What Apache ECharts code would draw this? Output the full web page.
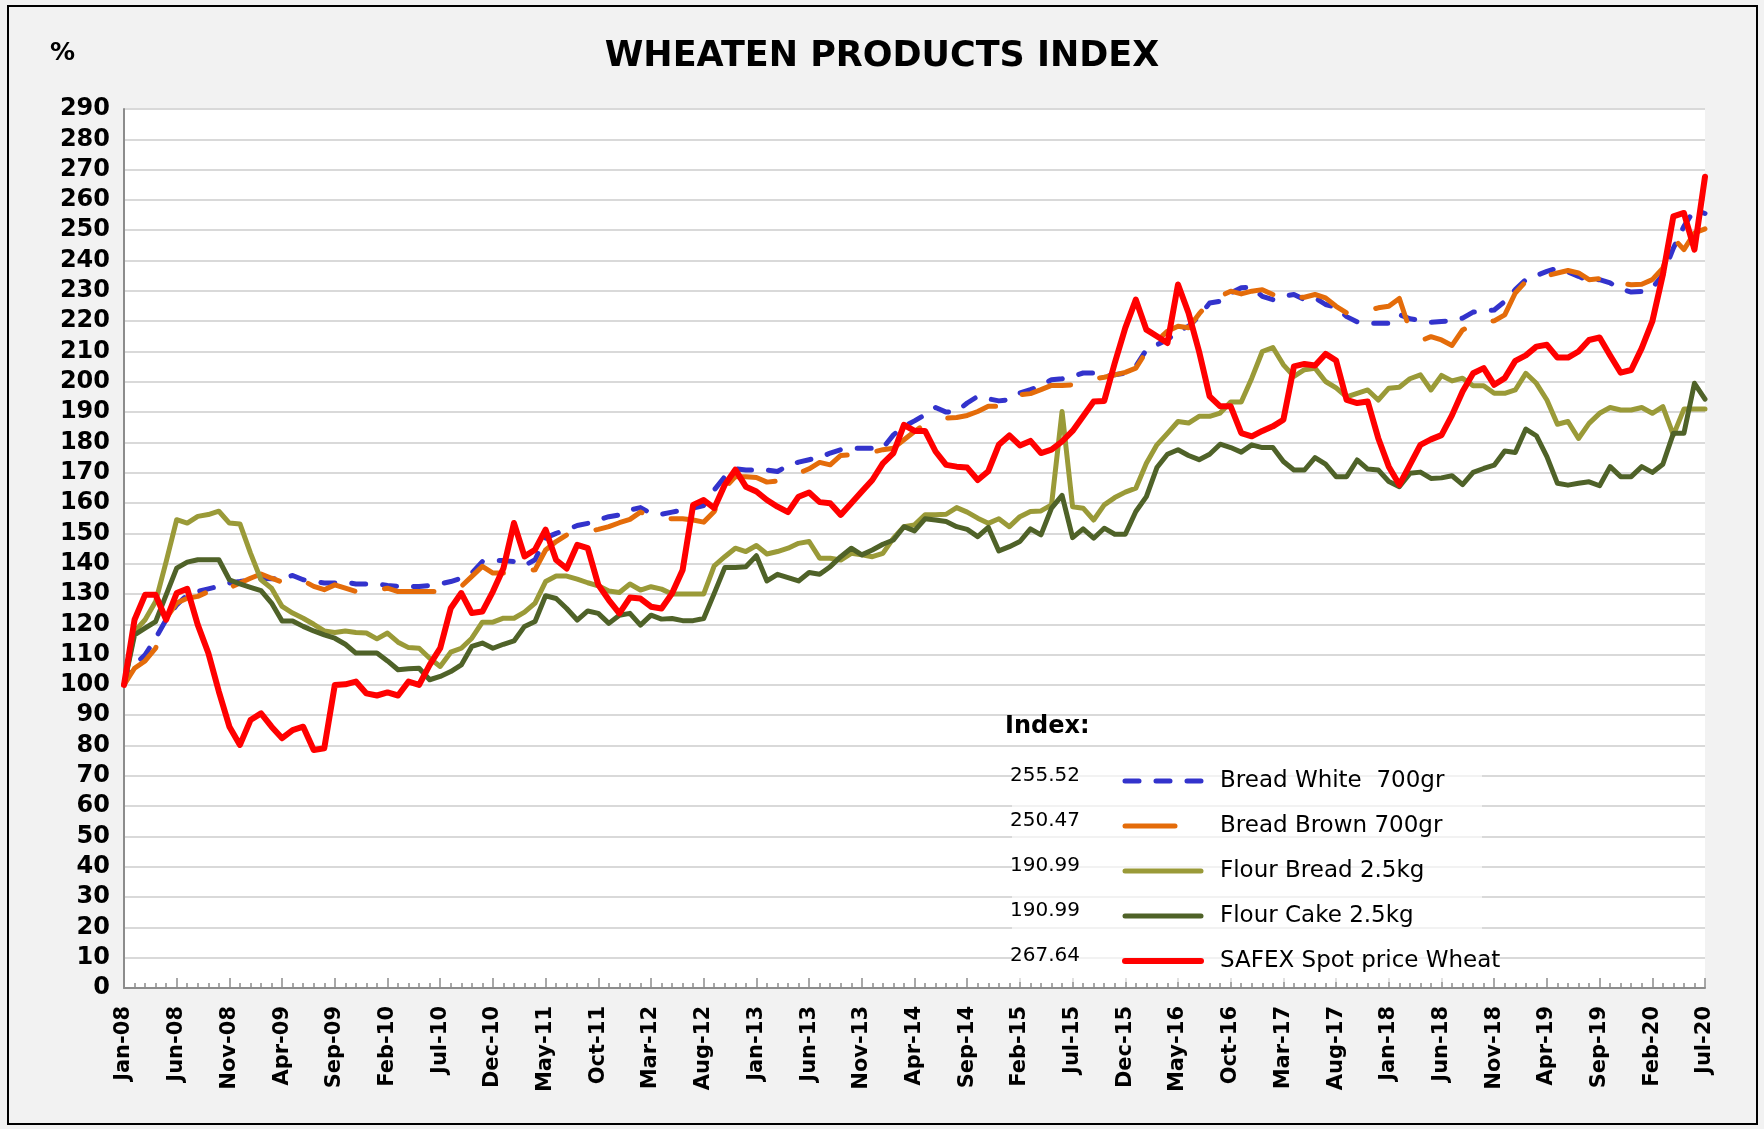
<!DOCTYPE html>
<html>
<head>
<meta charset="utf-8">
<title>Wheaten Products Index</title>
<script src="https://cdn.jsdelivr.net/npm/echarts@6/dist/echarts.min.js"></script>
<style>
  html, body { margin: 0; padding: 0; background: #F2F2F2; }
  #chart { width: 1764px; height: 1129px; }
</style>
</head>
<body>
<div id="chart"></div>
<script>
// month axis Jan-08 .. Jul-20
const monthNames = ['Jan', 'Feb', 'Mar', 'Apr', 'May', 'Jun', 'Jul', 'Aug', 'Sep', 'Oct', 'Nov', 'Dec']
const years = ['08', '09', '10', '11', '12', '13', '14', '15', '16', '17', '18', '19', '20']
const lastMonthOfLastYear = 7

const seriesNames = ['Bread White  700gr', 'Bread Brown 700gr', 'Flour Bread 2.5kg', 'Flour Cake 2.5kg', 'SAFEX Spot price Wheat']
const legendValues = ['255.52', '250.47', '190.99', '190.99', '267.64']

const breadWhite = [
  100, 106.6, 109.9, 115.4, 121.5, 126.4, 129.7, 130.8, 131.7, 132.5, 133.6, 134.1, 134.7, 135.2, 135, 135.2, 136.1, 134.7, 134.1, 133.6,
  133.6, 133.9, 133.3, 133.3, 133.3, 132.8, 132.5, 132.5, 132.5, 132.8, 133.3, 134.1, 135.2, 136.9, 140.7, 141, 141, 140.7, 139.4, 141.3,
  148.5, 150, 151.1, 152.6, 153.3, 154.4, 155.5, 156.1, 157.7, 158.5, 156.6, 156.3, 157, 157.7, 158.3, 159.2, 164.3, 168.7, 171.3, 170.9,
  170.9, 170.9, 170.4, 172.4, 173.5, 174.3, 175, 176.5, 177.6, 178.1, 178.1, 178.1, 178.1, 182.5, 185.3, 187.1, 189.1, 191.5, 190, 190.2,
  193, 195.2, 194.4, 193.7, 194.1, 196.3, 197.4, 198.8, 200.7, 201, 201.8, 202.9, 202.9, 201.8, 202.3, 202.9, 205.1, 210.6, 212.2, 213.9,
  216.7, 218.3, 221.6, 226, 226.6, 229.3, 231, 231.2, 228.2, 227.1, 228.2, 228.8, 227.1, 227.7, 225.5, 224.5, 221.5, 219.8, 219.3, 219.3,
  219.3, 222.2, 220.8, 220.2, 219.6, 219.9, 220.1, 221, 223, 223.4, 223.7, 226.5, 230.4, 233.7, 235.1, 236.4, 237.5, 236.2, 234.8, 233.3,
  233.7, 232.6, 230.7, 229.6, 229.8, 230.9, 235.3, 244.1, 251.3, 256.8, 255.52
]
const breadBrown = [
  100, 105.5, 107.9, 112.1, 122, 127, 128.6, 129.2, 130.8, 132.5, 132, 133.6, 135.2, 136.6, 135.2, 133.9, 133.5, 134.4, 132.5, 131.4,
  133, 131.9, 130.8, 130.6, 131.2, 131.9, 130.8, 130.8, 130.8, 130.8, 130.8, 131.5, 132.5, 135.8, 139.1, 136.9, 136.9, 136.9, 137.5, 138,
  144.5, 147.3, 149.5, 150, 150.6, 151.3, 152.2, 153.5, 154.6, 157, 155.5, 155, 154.8, 154.8, 154.4, 153.7, 157.2, 164.9, 168.7, 168.7,
  168.4, 166.9, 167.3, 168.5, 169.8, 171.3, 173.4, 172.6, 175.7, 175.9, 176.5, 176.8, 177.6, 178.1, 180.9, 183.6, 186, 187, 188, 188.2,
  188.9, 190.2, 191.9, 191.9, 194.6, 195.7, 196.1, 197.4, 198.8, 198.8, 199, 200.4, 201, 201.5, 202.3, 203.1, 204.5, 210, 213.5, 216.7,
  218.3, 217.8, 222.4, 226.3, 228.2, 229.9, 229, 229.9, 230.4, 228.8, 227.4, 227.9, 227.9, 228.8, 227.7, 224.9, 222.7, 223.3, 223.5, 224.4,
  224.9, 227.5, 217, 213.5, 214.9, 213.8, 212, 217.1, 218.8, 219.9, 220.1, 222.1, 229.3, 233.1, 234.8, 235, 235.9, 236.7, 235.9, 233.7,
  234, 232.9, 232.6, 232, 232.2, 233.7, 237.5, 247.4, 243.6, 249.1, 250.47
]
const flourBread = [
  100, 117.6, 121.5, 127.5, 140.7, 154.5, 153.4, 155.6, 156.2, 157.3, 153.4, 153.1, 143.5, 134.7, 131.9, 125.9, 123.7, 122, 120, 117.8,
  117.3, 117.8, 117.3, 117.1, 115.2, 117.1, 114.1, 112.3, 112.1, 108.8, 106.1, 110.8, 112.1, 115.4, 120.7, 120.7, 122, 122, 124, 127,
  134.1, 135.9, 135.9, 134.9, 133.7, 132.7, 131, 130.5, 133.3, 131.3, 132.4, 131.6, 130, 130, 130, 130, 139.3, 142.3, 145.1, 144,
  146, 143.2, 144, 145.1, 146.7, 147.3, 141.8, 141.8, 141.2, 143.4, 142.9, 142.3, 143.4, 148.4, 152.2, 152.8, 156.1, 156.1, 156.3, 158.5,
  157, 155, 153.3, 154.8, 152.2, 155.5, 157.2, 157.4, 159.4, 190.2, 158.8, 158.3, 154.4, 159.4, 161.8, 163.6, 164.9, 173.1, 179.2, 183,
  186.9, 186.4, 188.6, 188.6, 189.7, 193.3, 193.3, 201.2, 210, 211.3, 205.6, 201.8, 204, 204.5, 200.1, 198, 195, 196.2, 197.3, 194,
  197.9, 198.2, 201, 202.3, 197.3, 202.1, 200.3, 201.2, 198.7, 198.7, 196.2, 196.2, 197.3, 202.8, 199.5, 194, 186, 186.9, 181.3, 186.3,
  189.6, 191.5, 190.7, 190.7, 191.5, 189.6, 191.8, 182.4, 190.99, 190.99, 190.99
]
const flourCake = [
  100, 116.5, 118.7, 120.9, 129.7, 138.5, 140.5, 141.3, 141.3, 141.3, 134.7, 133.3, 132.2, 131.1, 127, 121.1, 121.1, 119.3, 117.8, 116.5,
  115.4, 113.4, 110.5, 110.5, 110.5, 107.9, 105, 105.3, 105.5, 101.7, 102.8, 104.4, 106.6, 112.7, 113.8, 112.1, 113.4, 114.5, 119.3, 120.9,
  129.4, 128.5, 125.2, 121.4, 124.4, 123.6, 120.3, 123, 123.6, 119.7, 123, 121.7, 121.9, 121.2, 121.2, 121.9, 130.2, 138.7, 138.7, 139,
  142.6, 134.3, 136.5, 135.4, 134.3, 137.1, 136.5, 139, 142.3, 145.1, 142.9, 144.5, 146.4, 147.8, 152.2, 150.8, 154.8, 154.4, 153.9, 152.2,
  151.3, 148.9, 152, 144.2, 145.6, 147.3, 151.5, 149.5, 158.3, 162.5, 148.6, 151.5, 148.4, 151.7, 149.7, 149.7, 157.2, 162.1, 171.7, 176.1,
  177.6, 175.7, 174.3, 176.1, 179.4, 178.3, 176.8, 179.2, 178.3, 178.3, 173.7, 170.9, 170.9, 175, 172.8, 168.7, 168.7, 174.2, 171.2, 170.9,
  167.1, 165.4, 169.8, 170.2, 168.1, 168.3, 169, 166.1, 170.1, 171.4, 172.5, 177.2, 176.7, 184.4, 182.2, 175.3, 166.5, 165.9, 166.5, 167,
  165.7, 172, 168.7, 168.7, 172, 170.1, 172.8, 183, 183, 199.5, 194.3
]
const safexWheat = [
  100, 121.5, 129.7, 129.7, 121.5, 130.3, 131.7, 119.8, 110.5, 97.8, 86.2, 80.2, 88.4, 90.6, 86.2, 82.4, 85.1, 86.2, 78.5, 79.1,
  100, 100.2, 101.1, 97.2, 96.5, 97.5, 96.5, 101.1, 100, 106.6, 112.1, 125.3, 130.3, 123.7, 124.2, 130.8, 138.5, 153.4, 142.4, 144.6,
  151.2, 141.2, 138.4, 146.2, 145.1, 133, 128, 123.6, 128.8, 128.5, 125.8, 125.2, 130.2, 137.9, 159.4, 161, 158.3, 166, 171, 165.4,
  163.8, 161, 158.8, 157, 162.1, 163.5, 160.3, 159.9, 156.1, 159.9, 163.8, 167.6, 173.1, 176.5, 185.8, 183.8, 183.8, 177, 172.6, 172,
  171.7, 167.6, 170.5, 179.2, 182.3, 179, 180.5, 176.5, 177.6, 180.3, 183.8, 188.6, 193.5, 193.7, 206.2, 217.8, 227.1, 217.2, 215, 212.8,
  232.1, 222.7, 210, 195.2, 191.9, 191.9, 183.1, 182, 183.8, 185.3, 187.5, 205.1, 205.9, 205.4, 209.2, 207, 194, 193, 193.5, 181.4,
  172, 166, 172.6, 179.2, 181, 182.4, 189, 196.8, 202.8, 204.5, 199, 201.2, 206.9, 208.7, 211.6, 212.2, 208, 208, 210, 213.8,
  214.6, 208.7, 203, 203.9, 211.1, 219.9, 235.3, 254.6, 255.7, 243.6, 267.64
]

const categories = []
years.forEach((yy, yi) => {
  const count = yi === years.length - 1 ? lastMonthOfLastYear : 12
  for (let m = 0; m < count; m++) categories.push(monthNames[m] + '-' + yy)
})

const FONT = 'DejaVu Sans'
const AXIS_GREY = '#8C8C8C'

const chart = echarts.init(document.getElementById('chart'), null, { renderer: 'canvas' })

const lineSeries = (name, data, color, width, dash) => ({
  name,
  type: 'line',
  data,
  symbol: 'none',
  smooth: false,
  animation: false,
  lineStyle: {
    color,
    width,
    type: dash || 'solid',
    cap: 'round',
    join: 'round'
  },
  itemStyle: { color }
})

chart.setOption({
  backgroundColor: '#F2F2F2',
  animation: false,
  textStyle: { fontFamily: FONT },
  grid: {
    left: 124,
    right: 59,
    top: 109,
    bottom: 141,
    show: true,
    backgroundColor: '#FFFFFF',
    borderWidth: 0
  },
  title: {
    text: 'WHEATEN PRODUCTS INDEX',
    left: 'center',
    top: 34,
    textStyle: { fontFamily: FONT, fontSize: 35, fontWeight: 'bold', color: '#000' }
  },
  legend: {
    orient: 'vertical',
    left: 1117,
    top: 764,
    itemWidth: 76,
    itemHeight: 14,
    itemGap: 21,
    selectedMode: false,
    data: seriesNames,
    itemStyle: { opacity: 0 },
    lineStyle: { width: 'inherit', cap: 'round' },
    textStyle: {
      fontFamily: FONT,
      fontSize: 23,
      color: '#000',
      lineHeight: 24,
      padding: [0, 0, 0, 14]
    }
  },
  xAxis: [{
    type: 'category',
    data: categories,
    boundaryGap: false,
    axisLine: { show: true, lineStyle: { color: AXIS_GREY, width: 2 } },
    axisTick: { show: true, inside: true, interval: 0, length: 5, lineStyle: { color: AXIS_GREY, width: 1.5 } },
    axisLabel: {
      interval: 4,
      rotate: 90,
      margin: 18,
      fontFamily: FONT,
      fontSize: 21,
      fontWeight: 'bold',
      color: '#000'
    },
    splitLine: { show: false }
  }, {
    type: 'category',
    data: categories,
    boundaryGap: false,
    position: 'bottom',
    axisLine: { show: false },
    axisTick: { show: true, inside: true, interval: 4, length: 10, lineStyle: { color: AXIS_GREY, width: 1.5 } },
    axisLabel: { show: false },
    splitLine: { show: false }
  }],
  yAxis: {
    type: 'value',
    min: 0,
    max: 290,
    interval: 10,
    axisLine: { show: true, lineStyle: { color: AXIS_GREY, width: 2 } },
    axisTick: { show: false },
    axisLabel: {
      margin: 14,
      fontFamily: FONT,
      fontSize: 24,
      fontWeight: 'bold',
      color: '#000'
    },
    splitLine: { show: true, lineStyle: { color: '#D9D9D9', width: 2 } }
  },
  graphic: [
    {
      type: 'rect',
      z: 1,
      shape: { x: 1012, y: 752, width: 470, height: 230 },
      style: { fill: 'rgba(255,255,255,0.65)' },
      silent: true
    },
    {
      type: 'rect',
      z: 100,
      shape: { x: 8, y: 6, width: 1749, height: 1118 },
      style: { fill: 'none', stroke: '#000', lineWidth: 2 },
      silent: true
    },
    {
      type: 'text',
      z: 100,
      left: 50,
      top: 41,
      style: { text: '%', fontFamily: FONT, fontSize: 25, fontWeight: 'bold', fill: '#000' }
    },
    {
      type: 'text',
      z: 100,
      left: 1005,
      top: 715,
      style: { text: 'Index:', fontFamily: FONT, fontSize: 24, fontWeight: 'bold', fill: '#000' }
    }
  ].concat(legendValues.map((v, k) => ({
    type: 'text',
    z: 100,
    x: 1080,
    y: 776 + k * 45,
    style: {
      text: v,
      fontFamily: FONT,
      fontSize: 20,
      fill: '#000',
      align: 'right',
      verticalAlign: 'middle'
    }
  }))),
  series: [
    lineSeries(seriesNames[0], breadWhite, '#3333CC', 5, [14, 17]),
    lineSeries(seriesNames[1], breadBrown, '#E46C0A', 5, [50, 30]),
    lineSeries(seriesNames[2], flourBread, '#9A9A38', 5),
    lineSeries(seriesNames[3], flourCake, '#4F6228', 5),
    lineSeries(seriesNames[4], safexWheat, '#FF0000', 6)
  ]
})
</script>
</body>
</html>
